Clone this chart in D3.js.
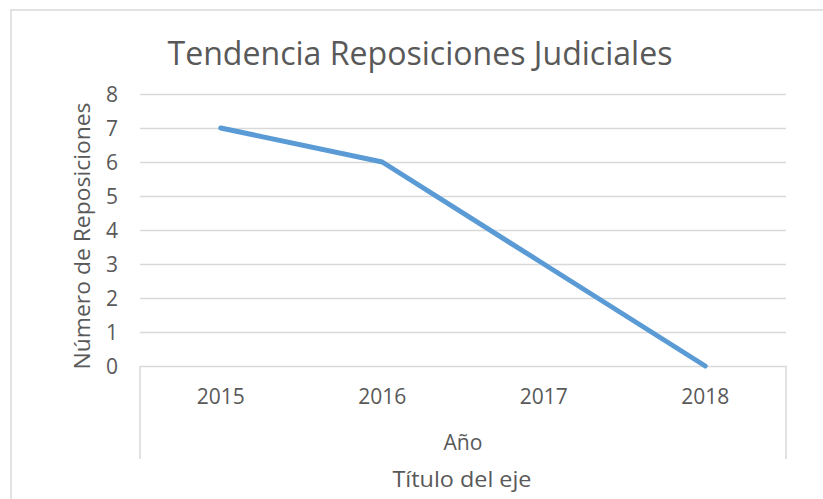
<!DOCTYPE html>
<html>
<head>
<meta charset="utf-8">
<script src="https://cdn.jsdelivr.net/npm/d3@7"></script>
<style>
  body { margin: 0; background: #fff; }
  svg text { font-family: "Open Sans", sans-serif; fill: #595959; }
</style>
</head>
<body>
<div id="chart"></div>
<script>
const years = ["2015", "2016", "2017", "2018"];
const reposiciones = [7, 6, 3, 0];
const yTicks = [0, 1, 2, 3, 4, 5, 6, 7, 8];
const titleText = "Tendencia Reposiciones Judiciales";
const yTitle = "Número de Reposiciones";
const groupLabel = "Año";
const xTitle = "Título del eje";

const width = 823, height = 499,
  plot = { left: 140, right: 786, top: 94, bottom: 366 },
  svg = d3.select('#chart').append('svg')
    .attr('width', width)
    .attr('height', height);

// chart frame
svg.append('rect')
  .attr('x', 11).attr('y', 10)
  .attr('width', width).attr('height', height)
  .attr('fill', 'none')
  .attr('stroke', '#d9d9d9')
  .attr('stroke-width', 1.5);

const x = d3.scaleBand()
  .domain(years)
  .range([plot.left, plot.right]);

const y = d3.scaleLinear()
  .domain([0, 8])
  .range([plot.bottom, plot.top]);

// gridlines
svg.append('g')
  .attr('transform', 'translate(' + plot.left + ',0)')
  .call(d3.axisLeft(y).tickValues(yTicks.slice(1)).tickSize(-(plot.right - plot.left)).tickFormat(''))
  .call(g => g.select('.domain').remove())
  .selectAll('line')
  .attr('stroke', '#d9d9d9')
  .attr('stroke-width', 1.3);

// y tick labels
svg.append('g')
  .attr('transform', 'translate(' + (plot.left - 22) + ',0)')
  .call(d3.axisLeft(y).tickValues(yTicks).tickSize(0).tickPadding(0))
  .call(g => g.select('.domain').remove())
  .selectAll('text')
  .style('font-size', '21px')
  .attr('dy', '0.36em');

// x axis with category labels
const xAxis = svg.append('g')
  .attr('transform', 'translate(0,' + plot.bottom + ')')
  .call(d3.axisBottom(x).tickSize(0).tickPadding(23));
xAxis.select('.domain')
  .attr('stroke', '#d9d9d9')
  .attr('stroke-width', 1.5);
xAxis.selectAll('text')
  .style('font-size', '21px');

// group boundary lines
svg.selectAll('.group-line')
  .data([plot.left, plot.right])
  .enter()
  .append('line')
  .attr('class', 'group-line')
  .attr('x1', d => d).attr('x2', d => d)
  .attr('y1', plot.bottom).attr('y2', 459)
  .attr('stroke', '#d9d9d9')
  .attr('stroke-width', 1.5);

// series line
const line = d3.line()
  .x((d, i) => x(years[i]) + x.bandwidth() / 2)
  .y(d => y(d));

svg.append('path')
  .datum(reposiciones)
  .attr('d', line)
  .attr('fill', 'none')
  .attr('stroke', '#5b9bd5')
  .attr('stroke-width', 5)
  .attr('stroke-linecap', 'round')
  .attr('stroke-linejoin', 'round');

// titles
const cx = (plot.left + plot.right) / 2;

svg.append('text')
  .attr('x', 420).attr('y', 65)
  .attr('text-anchor', 'middle')
  .attr('textLength', 505)
  .attr('lengthAdjust', 'spacingAndGlyphs')
  .style('font-size', '33px')
  .text(titleText);

svg.append('text')
  .attr('x', cx).attr('y', 450)
  .attr('text-anchor', 'middle')
  .attr('textLength', 39)
  .attr('lengthAdjust', 'spacingAndGlyphs')
  .style('font-size', '21px')
  .text(groupLabel);

svg.append('text')
  .attr('x', 462).attr('y', 487)
  .attr('text-anchor', 'middle')
  .attr('textLength', 139)
  .attr('lengthAdjust', 'spacingAndGlyphs')
  .style('font-size', '21px')
  .text(xTitle);

svg.append('text')
  .attr('transform', 'translate(90,236) rotate(-90)')
  .attr('text-anchor', 'middle')
  .attr('textLength', 267)
  .attr('lengthAdjust', 'spacingAndGlyphs')
  .style('font-size', '21px')
  .text(yTitle);
</script>
</body>
</html>
